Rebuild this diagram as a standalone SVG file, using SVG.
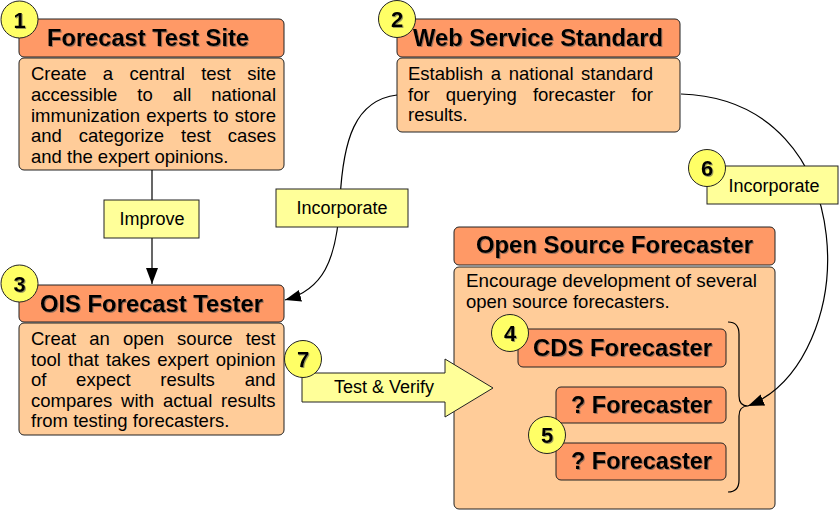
<svg xmlns="http://www.w3.org/2000/svg" width="840" height="511" viewBox="0 0 840 511">
  <style>
    .hdr { fill: #FF9966; stroke: #222; stroke-width: 1; }
    .body { fill: #FFCC99; stroke: #222; stroke-width: 1; }
    .num { fill: #FFFF66; stroke: #222; stroke-width: 1; }
    .lbl { fill: #FFFF99; stroke: #222; stroke-width: 1; }
    .title { font-family: "Liberation Sans", Arial, sans-serif; font-weight: bold; font-size: 23.5px; fill: #000; filter: url(#shadow); }
    .numtxt { font-family: "Liberation Sans", Arial, sans-serif; font-weight: bold; font-size: 22px; fill: #000; text-anchor: middle; filter: url(#shadow); }
    .txt { font-family: "Liberation Sans", Arial, sans-serif; font-size: 18.5px; fill: #000; }
    .ltxt { font-family: "Liberation Sans", Arial, sans-serif; font-size: 18px; fill: #000; text-anchor: middle; }
    .conn { fill: none; stroke: #000; stroke-width: 1.2; }
    .end { text-anchor: end; }
  </style>
  <defs>
    <filter id="shadow" x="-10%" y="-10%" width="130%" height="130%">
      <feDropShadow dx="1" dy="1" stdDeviation="0.3" flood-color="#555" flood-opacity="0.6"/>
    </filter>
    <marker id="arrow" viewBox="0 0 16 12" refX="16" refY="6" markerWidth="16" markerHeight="12" markerUnits="userSpaceOnUse" orient="auto">
      <path d="M0,0 L16,6 L0,12 Z" fill="#000"/>
    </marker>
  </defs>

  <!-- 1: Forecast Test Site -->
  <g id="forecast-test-site">
    <rect class="hdr" x="19" y="19" width="265" height="38" rx="5"/>
    <rect class="body" x="19" y="58" width="265" height="112" rx="5"/>
    <text class="title" x="47" y="46" textLength="202" lengthAdjust="spacingAndGlyphs">Forecast Test Site</text>
    <text class="txt" y="80"><tspan x="31">Create</tspan><tspan x="102.8">a</tspan><tspan x="129.4">central</tspan><tspan x="201.2">test</tspan><tspan class="end" x="276">site</tspan></text>
    <text class="txt" y="100.75"><tspan x="31">accessible</tspan><tspan x="137.3">to</tspan><tspan x="172.8">all</tspan><tspan class="end" x="276">national</tspan></text>
    <text class="txt" y="121.5"><tspan x="31">immunization</tspan><tspan x="146.3">experts</tspan><tspan x="213.2">to</tspan><tspan class="end" x="276">store</tspan></text>
    <text class="txt" y="142.25"><tspan x="31">and</tspan><tspan x="78.8">categorize</tspan><tspan x="181">test</tspan><tspan class="end" x="276">cases</tspan></text>
    <text class="txt" x="31" y="163">and the expert opinions.</text>
    <circle class="num" cx="19.5" cy="19.5" r="18.5"/>
    <text class="numtxt" x="19.5" y="27.5">1</text>
  </g>

  <!-- 2: Web Service Standard -->
  <g id="web-service-standard">
    <rect class="hdr" x="397" y="19" width="283" height="38" rx="5"/>
    <rect class="body" x="397" y="58" width="283" height="74" rx="5"/>
    <text class="title" x="413" y="46" textLength="250" lengthAdjust="spacingAndGlyphs">Web Service Standard</text>
    <text class="txt" y="80"><tspan x="408">Establish</tspan><tspan x="490.7">a</tspan><tspan x="508.7">national</tspan><tspan class="end" x="653">standard</tspan></text>
    <text class="txt" y="100.5"><tspan x="408">for</tspan><tspan x="445.8">querying</tspan><tspan x="532.9">forecaster</tspan><tspan class="end" x="653">for</tspan></text>
    <text class="txt" x="408" y="121">results.</text>
    <circle class="num" cx="397" cy="19" r="18.5"/>
    <text class="numtxt" x="397" y="27">2</text>
  </g>

  <!-- 3: OIS Forecast Tester -->
  <g id="ois-forecast-tester">
    <rect class="hdr" x="19" y="285" width="265" height="37" rx="5"/>
    <rect class="body" x="19" y="323" width="265" height="112" rx="5"/>
    <text class="title" x="40" y="312" textLength="223" lengthAdjust="spacingAndGlyphs">OIS Forecast Tester</text>
    <text class="txt" y="345"><tspan x="31">Creat</tspan><tspan x="89.3">an</tspan><tspan x="122.9">open</tspan><tspan x="177.1">source</tspan><tspan class="end" x="275.5">test</tspan></text>
    <text class="txt" y="365.5"><tspan x="31">tool</tspan><tspan x="68">that</tspan><tspan x="106">takes</tspan><tspan x="157.3">expert</tspan><tspan class="end" x="275.5">opinion</tspan></text>
    <text class="txt" y="386"><tspan x="31">of</tspan><tspan x="76.1">expect</tspan><tspan x="160.3">results</tspan><tspan class="end" x="275.5">and</tspan></text>
    <text class="txt" y="406.5"><tspan x="31">compares</tspan><tspan x="121.1">with</tspan><tspan x="162.9">actual</tspan><tspan class="end" x="275.5">results</tspan></text>
    <text class="txt" x="31" y="427">from testing forecasters.</text>
    <circle class="num" cx="19.5" cy="283.5" r="18.5"/>
    <text class="numtxt" x="19.5" y="291.5">3</text>
  </g>

  <!-- Open Source Forecaster container -->
  <g id="open-source-forecaster">
    <rect class="hdr" x="454" y="227" width="321" height="38" rx="5"/>
    <rect class="body" x="454" y="267" width="321" height="242" rx="5"/>
    <text class="title" x="476" y="253" textLength="277" lengthAdjust="spacingAndGlyphs">Open Source Forecaster</text>
    <text class="txt" x="466" y="287" textLength="291" lengthAdjust="spacingAndGlyphs">Encourage development of several</text>
    <text class="txt" x="466" y="307.5">open source forecasters.</text>
    <!-- brace grouping the forecasters -->
    <path class="conn" d="M728,322 Q739,322 739,334 L739,396 Q739,406 748,406 Q739,406 739,416 L739,480 Q739,492 728,492"/>
  </g>

  <!-- 4: CDS Forecaster -->
  <g id="cds-forecaster">
    <rect class="hdr" x="518" y="329" width="208" height="38" rx="5"/>
    <text class="title" x="533" y="356" textLength="179" lengthAdjust="spacingAndGlyphs">CDS Forecaster</text>
    <circle class="num" cx="510" cy="333" r="18.5"/>
    <text class="numtxt" x="510" y="341">4</text>
  </g>

  <!-- 5: unnamed forecasters -->
  <g id="forecaster-a">
    <rect class="hdr" x="556" y="387" width="170" height="36" rx="5"/>
    <text class="title" x="571" y="413" textLength="141" lengthAdjust="spacingAndGlyphs">? Forecaster</text>
  </g>
  <g id="forecaster-b">
    <rect class="hdr" x="556" y="443" width="170" height="37" rx="5"/>
    <text class="title" x="571" y="469" textLength="141" lengthAdjust="spacingAndGlyphs">? Forecaster</text>
  </g>
  <g id="badge-5">
    <circle class="num" cx="547" cy="435" r="18.5"/>
    <text class="numtxt" x="547" y="443">5</text>
  </g>

  <!-- connectors -->
  <g id="connectors">
    <line class="conn" x1="152" y1="170" x2="152" y2="284" marker-end="url(#arrow)"/>
    <path class="conn" d="M397,95 C355,100 343,140 340,200 C337,262 322,290 285,300" marker-end="url(#arrow)"/>
    <path class="conn" d="M681,94 C865,100 862,360 748,406" marker-end="url(#arrow)"/>
  </g>

  <!-- connector labels -->
  <g id="label-improve">
    <rect class="lbl" x="104" y="200" width="95" height="38"/>
    <text class="ltxt" x="152" y="225">Improve</text>
  </g>
  <g id="label-incorporate-3">
    <rect class="lbl" x="276" y="189" width="132" height="38"/>
    <text class="ltxt" x="342" y="214">Incorporate</text>
  </g>
  <g id="label-incorporate-6">
    <rect class="lbl" x="707" y="166" width="131" height="38"/>
    <text class="ltxt" x="774" y="192">Incorporate</text>
    <circle class="num" cx="707" cy="168" r="18.5"/>
    <text class="numtxt" x="707" y="176">6</text>
  </g>

  <!-- 7: Test & Verify block arrow -->
  <g id="test-verify">
    <polygon class="lbl" points="302,373 445,373 445,359 493,388 445,417 445,402 302,402"/>
    <text class="ltxt" x="384" y="393">Test &amp; Verify</text>
    <circle class="num" cx="303" cy="359" r="18.5"/>
    <text class="numtxt" x="303" y="367">7</text>
  </g>
</svg>
